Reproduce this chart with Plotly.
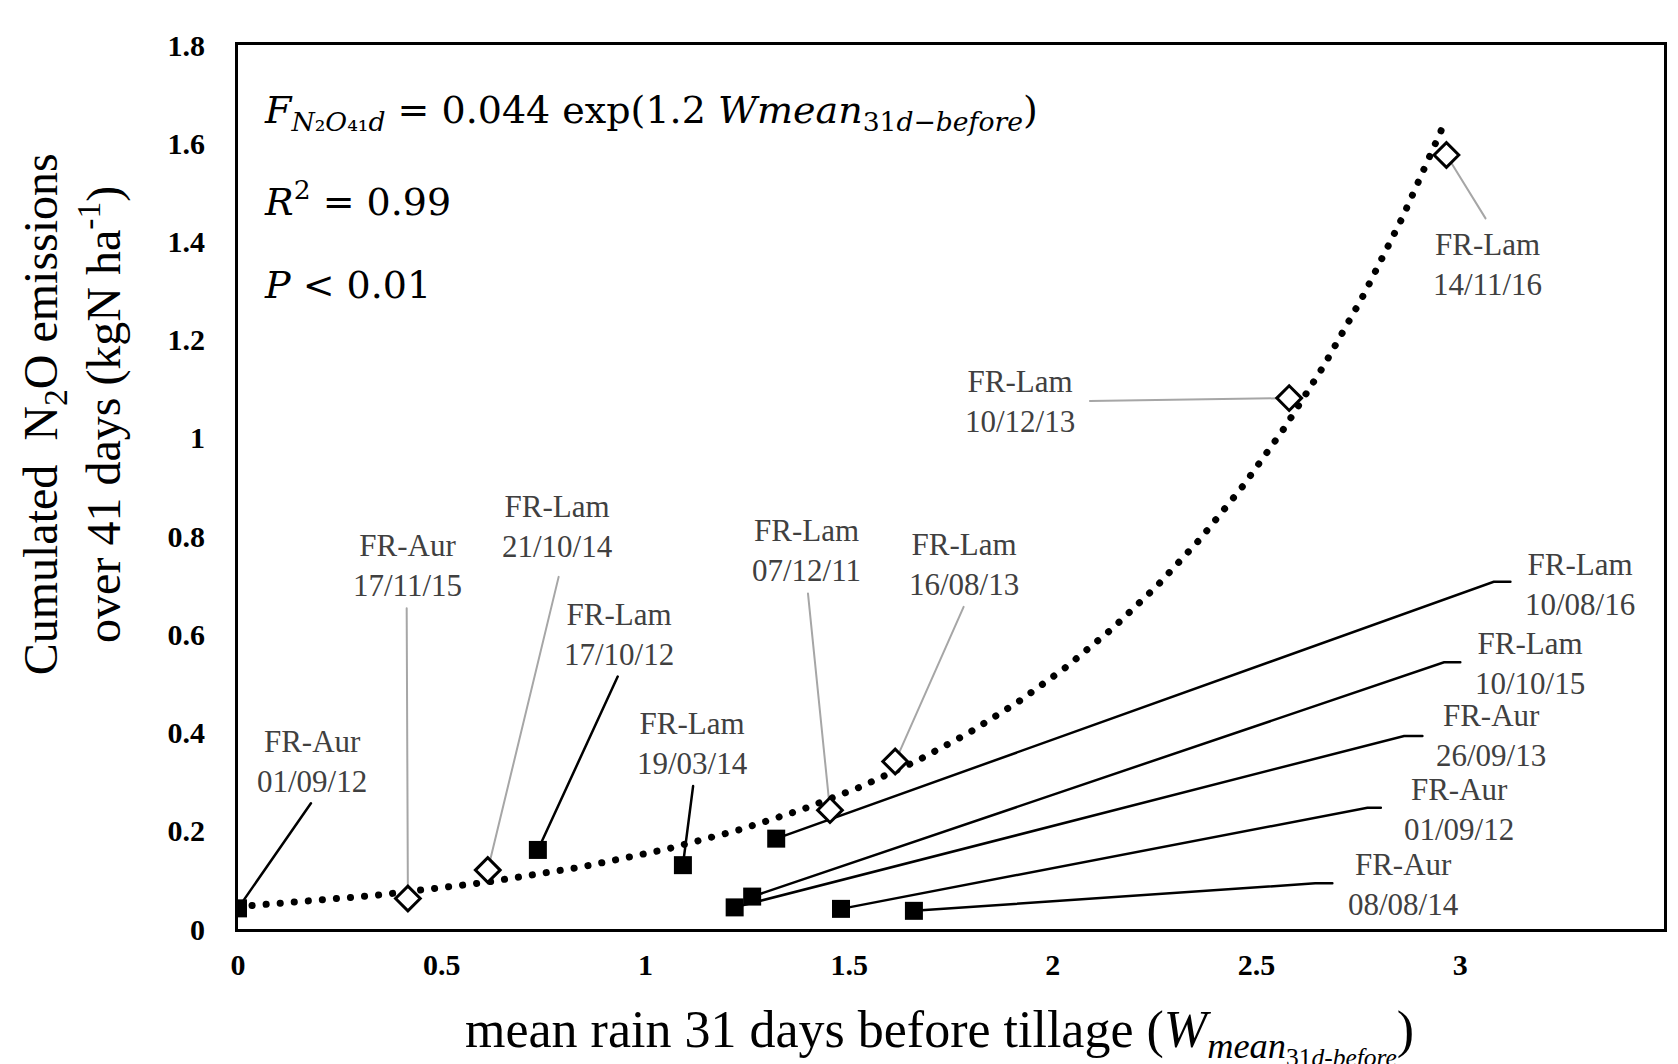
import numpy as np
import plotly.graph_objects as go

# ---------------- data ----------------
# filled squares (not used in the fit)
sq_x = [0.0, 0.736, 1.092, 1.321, 1.219, 1.262, 1.480, 1.659]
sq_y = [0.042, 0.161, 0.130, 0.184, 0.044, 0.066, 0.041, 0.037]
sq_site = ["FR-Aur", "FR-Lam", "FR-Lam", "FR-Lam", "FR-Aur", "FR-Lam", "FR-Aur", "FR-Aur"]
sq_date = ["01/09/12", "17/10/12", "19/03/14", "10/08/16", "26/09/13", "10/10/15", "01/09/12", "08/08/14"]

# open diamonds (used for the exponential fit)
dm_x = [0.417, 0.613, 1.453, 1.613, 2.580, 2.966]
dm_y = [0.062, 0.120, 0.242, 0.341, 1.081, 1.576]
dm_site = ["FR-Aur", "FR-Lam", "FR-Lam", "FR-Lam", "FR-Lam", "FR-Lam"]
dm_date = ["17/11/15", "21/10/14", "07/12/11", "16/08/13", "10/12/13", "14/11/16"]

x_ticks = [0, 0.5, 1, 1.5, 2, 2.5, 3, 3.5]
x_ticktext = ["0", "0.5", "1", "1.5", "2", "2.5", "3", "3.5"]
y_ticks = [0, 0.2, 0.4, 0.6, 0.8, 1.0, 1.2, 1.4, 1.6, 1.8]
y_ticktext = ["0", "0.2", "0.4", "0.6", "0.8", "1", "1.2", "1.4", "1.6", "1.8"]

# ---------------- label layout (text centre + leader anchor points) ----------------
sq_label_pos = [
    (0.182, 0.342, [(0.179, 0.256)]),
    (0.934, 0.600, [(0.932, 0.514)]),
    (1.116, 0.378, [(1.117, 0.291)]),
    (3.294, 0.702, [(3.123, 0.707), (3.082, 0.707)]),
    (3.076, 0.393, [(2.907, 0.393), (2.862, 0.393)]),
    (3.170, 0.540, [(3.000, 0.543), (2.960, 0.543)]),
    (2.997, 0.244, [(2.805, 0.247), (2.772, 0.247)]),
    (2.860, 0.091, [(2.686, 0.093), (2.644, 0.093)]),
]
dm_label_pos = [
    (0.416, 0.740, [(0.414, 0.653)]),
    (0.785, 0.819, [(0.787, 0.717)]),
    (1.395, 0.770, [(1.399, 0.683)]),
    (1.781, 0.743, [(1.781, 0.656)]),
    (1.920, 1.074, [(2.091, 1.075)]),
    (3.066, 1.354, [(3.062, 1.447)]),
]

SERIF = "Liberation Serif, Times New Roman, serif"
MATH = "DejaVu Serif, serif"
LABEL_COLOR = "#404040"

fig = go.Figure()

# leader lines
for (tx, ty, pts), px, py in zip(sq_label_pos, sq_x, sq_y):
    fig.add_trace(go.Scatter(x=[p[0] for p in pts] + [px], y=[p[1] for p in pts] + [py],
                             mode="lines", line=dict(color="black", width=2.5),
                             hoverinfo="skip", showlegend=False))
for (tx, ty, pts), px, py in zip(dm_label_pos, dm_x, dm_y):
    fig.add_trace(go.Scatter(x=[p[0] for p in pts] + [px], y=[p[1] for p in pts] + [py],
                             mode="lines", line=dict(color="#a6a6a6", width=2),
                             hoverinfo="skip", showlegend=False))

# exponential trend line fitted on the diamond points
b, ln_a = np.polyfit(np.array(dm_x), np.log(np.array(dm_y)), 1)
xf = np.linspace(0, max(dm_x), 400)
yf = np.exp(ln_a) * np.exp(b * xf)
fig.add_trace(go.Scatter(x=xf, y=yf, mode="lines",
                         line=dict(color="black", width=7, dash="0.1px,14px"),
                         hoverinfo="skip", showlegend=False))

# markers
fig.add_trace(go.Scatter(x=sq_x, y=sq_y, mode="markers",
                         marker=dict(symbol="square", size=18, color="black"),
                         showlegend=False))
fig.add_trace(go.Scatter(x=dm_x, y=dm_y, mode="markers",
                         marker=dict(symbol="diamond", size=19, color="white",
                                     line=dict(color="black", width=3)),
                         showlegend=False))

annotations = []
for (tx, ty, pts), s, d in zip(sq_label_pos + dm_label_pos, sq_site + dm_site, sq_date + dm_date):
    annotations.append(dict(x=tx, y=ty, xref="x", yref="y", text=f"{s}<br>{d}",
                            showarrow=False, xanchor="center", yanchor="middle",
                            font=dict(family=SERIF, size=31, color=LABEL_COLOR)))

# equation text
eq_font = dict(family=MATH, size=38, color="black")
annotations.append(dict(x=262, y=128, xref="paper", yref="paper",
                        text="<i>F</i><sub><i>N</i>₂<i>O</i>₄₁<i>d</i></sub> = 0.044 exp(1.2 <i>Wmean</i><sub>31<i>d</i>−<i>before</i></sub>)",
                        showarrow=False, xanchor="left", yanchor="bottom", font=eq_font))
annotations.append(dict(x=262, y=215, xref="paper", yref="paper",
                        text="<i>R</i><sup>2</sup> = 0.99",
                        showarrow=False, xanchor="left", yanchor="bottom", font=eq_font))
annotations.append(dict(x=262, y=298, xref="paper", yref="paper",
                        text="<i>P</i> &lt; 0.01",
                        showarrow=False, xanchor="left", yanchor="bottom", font=eq_font))

# convert pixel-placed annotations to paper coords
L, R, T, B = 238, 11, 45, 135
W, H = 1678, 1064
pw, ph = W - L - R, H - T - B
for a in annotations[-3:]:
    a["x"] = (a["x"] - L) / pw
    a["y"] = (H - B - a["y"]) / ph
    a["yshift"] = -11

# axis titles
annotations.append(dict(x=(72 - L) / pw, y=(H - B - 414) / ph, xref="paper", yref="paper",
                        text="Cumulated &nbsp;N<sub>2</sub>O emissions<br>over 41 days (kgN ha<sup>-1</sup>)",
                        textangle=-90, showarrow=False, xanchor="center", yanchor="middle",
                        font=dict(family=SERIF, size=48, color="black")))
annotations.append(dict(x=(941 - L) / pw, y=(H - B - 1036) / ph, xref="paper", yref="paper",
                        text="mean rain 31 days before tillage (<i>W</i><sub><i>mean</i><sub>31<i>d</i>-<i>before</i></sub></sub>)",
                        showarrow=False, xanchor="center", yanchor="middle",
                        font=dict(family=SERIF, size=52, color="black")))

fig.update_layout(
    width=W, height=H,
    margin=dict(l=L, r=R, t=T, b=B),
    paper_bgcolor="white", plot_bgcolor="white",
    annotations=annotations,
    xaxis=dict(range=[0, 3.5], tickvals=x_ticks, ticktext=x_ticktext, showgrid=False,
               zeroline=False, showline=True, mirror=True, linecolor="black", linewidth=3,
               ticks="", ticklabelstandoff=7,
               tickfont=dict(family=SERIF, size=30, color="black", weight="bold")),
    yaxis=dict(range=[0, 1.8], tickvals=y_ticks, ticktext=y_ticktext, showgrid=False,
               zeroline=False, showline=True, mirror=True, linecolor="black", linewidth=3,
               ticks="", ticklabelstandoff=24,
               tickfont=dict(family=SERIF, size=30, color="black", weight="bold")),
)

post = """
var s = document.createElement('style');
s.innerHTML = '.js-line{stroke-linecap:round;}';
document.head.appendChild(s);
"""
fig.write_html("out.html", post_script=post)
